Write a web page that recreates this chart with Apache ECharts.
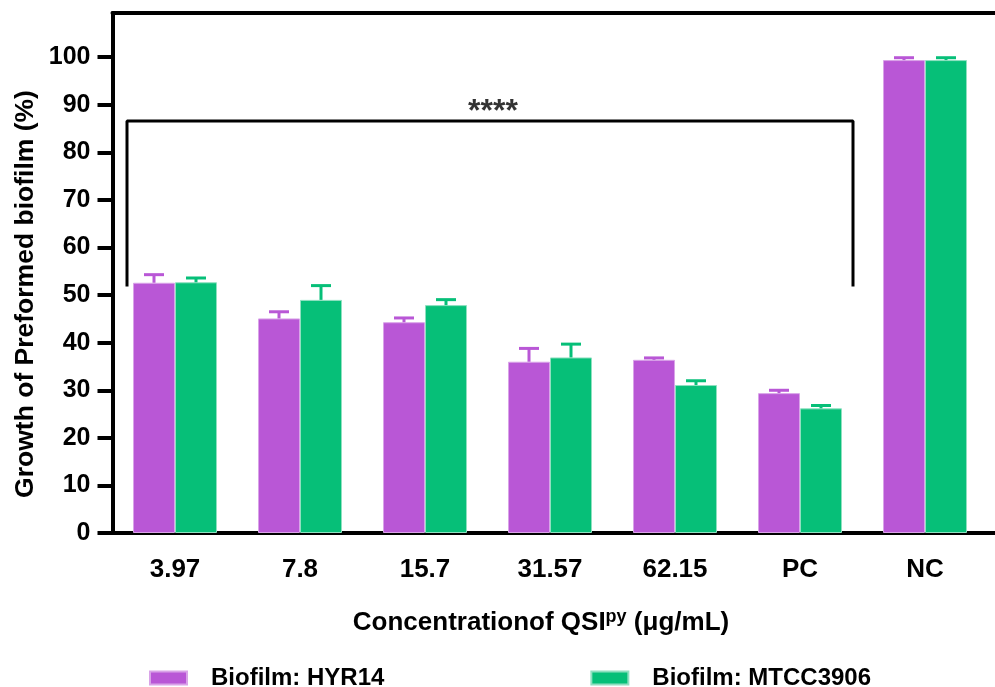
<!DOCTYPE html>
<html>
<head>
<meta charset="utf-8">
<script src="https://cdn.jsdelivr.net/npm/echarts@6/dist/echarts.min.js"></script>
<style>html,body{margin:0;padding:0;background:#fff}#c{width:995px;height:687px}</style>
</head>
<body>
<div id="c"></div>
<script>
const categories = ['3.97', '7.8', '15.7', '31.57', '62.15', 'PC', 'NC'];
const hyr14 = [52.6, 45.1, 44.3, 36.0, 36.4, 29.4, 99.4];
const hyr14Err = [1.7, 1.4, 0.9, 2.8, 0.4, 0.6, 0.5];
const mtcc3906 = [52.7, 49.0, 47.9, 36.9, 31.1, 26.2, 99.4];
const mtcc3906Err = [0.9, 3.0, 1.15, 2.8, 0.9, 0.6, 0.5];
const yTicks = [0, 10, 20, 30, 40, 50, 60, 70, 80, 90, 100];
const bracketX = [-0.384, -0.384, 5.424, 5.424];
const bracketY = [51.8, 86.6, 86.6, 51.8];
const sigLabel = '****';
const sigPos = [2.544, 88.4];

const PURPLE = '#B957D6';
const GREEN = '#06BF78';
const FONT = 'Liberation Sans';

const chart = echarts.init(document.getElementById('c'), null, {renderer: 'canvas'});

function errRender(side, color) {
  return function (params, api) {
    const i = api.value(0), v = api.value(1), e = api.value(2);
    const band = api.size([1, 0])[0];
    const x = api.coord([i, 0])[0] + side * band * 0.168;
    const yv = api.coord([i, v])[1];
    const yt = api.coord([i, v + e])[1];
    const half = band * 0.08;
    return {
      type: 'group',
      children: [
        {type: 'line', shape: {x1: x, y1: yv, x2: x, y2: yt}, style: {stroke: color, lineWidth: 3}},
        {type: 'line', shape: {x1: x - half, y1: yt, x2: x + half, y2: yt}, style: {stroke: color, lineWidth: 3}}
      ]
    };
  };
}

const option = {
  animation: false,
  backgroundColor: '#fff',
  textStyle: {fontFamily: FONT},
  grid: [
    {left: 112.5, right: 7.5, top: 13, bottom: 154, containLabel: false},
    {left: 112.5, right: 0, top: 13, bottom: 154, containLabel: false}
  ],
  legend: {
    data: ['Biofilm: HYR14', 'Biofilm: MTCC3906'],
    left: 144, top: 661,
    itemWidth: 37, itemHeight: 13, itemGap: 206,
    icon: 'rect',
    textStyle: {fontFamily: FONT, fontWeight: 'bold', fontSize: 24, color: '#000', padding: [0, 0, 0, 19]}
  },
  xAxis: [
    {
      type: 'category', data: categories, gridIndex: 0,
      axisLine: {onZero: false, lineStyle: {color: '#000', width: 4}},
      axisTick: {alignWithLabel: true, length: 16, lineStyle: {color: '#000', width: 4}},
      axisLabel: {margin: 24, fontFamily: FONT, fontWeight: 'bold', fontSize: 26, color: '#000'},
      name: '{a|Concentrationof QSI}{s|py}{a| (\u03bcg/mL)}',
      nameLocation: 'middle', nameGap: 75,
      nameTextStyle: {
        padding: [0, 18, 0, 0],
        rich: {
          a: {fontFamily: FONT, fontWeight: 'bold', fontSize: 26, color: '#000'},
          s: {fontFamily: FONT, fontWeight: 'bold', fontSize: 18, color: '#000', verticalAlign: 'top', padding: [0, 0, 12, 0]}
        }
      }
    },
    {type: 'value', gridIndex: 0, min: -0.5, max: 6.5, show: false},
    {
      type: 'value', gridIndex: 1, position: 'bottom', min: 0, max: 1,
      axisLine: {show: true, onZero: false, lineStyle: {color: '#000', width: 4}},
      axisTick: {show: false}, axisLabel: {show: false}, splitLine: {show: false}
    },
    {
      type: 'value', gridIndex: 1, position: 'top', min: 0, max: 1,
      axisLine: {show: true, onZero: false, lineStyle: {color: '#000', width: 4}},
      axisTick: {show: false}, axisLabel: {show: false}, splitLine: {show: false}
    }
  ],
  yAxis: [
    {
      type: 'value', gridIndex: 0, min: 0, max: 109.3,
      axisLine: {show: true, onZero: false, lineStyle: {color: '#000', width: 4}},
      axisTick: {show: true, length: 15, lineStyle: {color: '#000', width: 4}, customValues: yTicks},
      axisLabel: {margin: 22, fontFamily: FONT, fontWeight: 'bold', fontSize: 25, color: '#000', customValues: yTicks},
      splitLine: {show: false}
    },
    {type: 'value', gridIndex: 1, min: 0, max: 1, show: false}
  ],
  graphic: [
    {
      type: 'text', x: 26, y: 294, rotation: Math.PI / 2,
      style: {
        text: 'Growth of Preformed biofilm (%)', fill: '#000',
        font: 'bold 26.5px "Liberation Sans"', align: 'center', verticalAlign: 'middle'
      }
    }
  ],
  series: [
    {
      name: 'Biofilm: HYR14', type: 'bar', xAxisIndex: 0, yAxisIndex: 0,
      data: hyr14, barGap: '0%', barCategoryGap: '32.8%',
      itemStyle: {color: PURPLE, borderColor: '#D9A3E8', borderWidth: 1}
    },
    {
      name: 'Biofilm: MTCC3906', type: 'bar', xAxisIndex: 0, yAxisIndex: 0,
      data: mtcc3906, barGap: '0%', barCategoryGap: '32.8%',
      itemStyle: {color: GREEN, borderColor: '#8FE0C0', borderWidth: 1}
    },
    {
      type: 'custom', xAxisIndex: 0, yAxisIndex: 0, z: 5,
      renderItem: errRender(-1, PURPLE),
      data: hyr14.map((v, i) => [i, v, hyr14Err[i]]),
      encode: {x: 0, y: 1}
    },
    {
      type: 'custom', xAxisIndex: 0, yAxisIndex: 0, z: 5,
      renderItem: errRender(1, GREEN),
      data: mtcc3906.map((v, i) => [i, v, mtcc3906Err[i]]),
      encode: {x: 0, y: 1}
    },
    {
      type: 'line', xAxisIndex: 1, yAxisIndex: 0, z: 6,
      data: bracketX.map((x, i) => [x, bracketY[i]]),
      symbol: 'none', lineStyle: {color: '#000', width: 3}, silent: true
    },
    {
      type: 'scatter', xAxisIndex: 1, yAxisIndex: 0, z: 6,
      data: [sigPos], symbolSize: 1, itemStyle: {color: 'rgba(0,0,0,0)'},
      label: {show: true, position: 'inside', formatter: sigLabel, fontFamily: FONT, fontWeight: 'bold', fontSize: 32, color: '#000'}
    }
  ]
};
chart.setOption(option);
</script>
</body>
</html>
